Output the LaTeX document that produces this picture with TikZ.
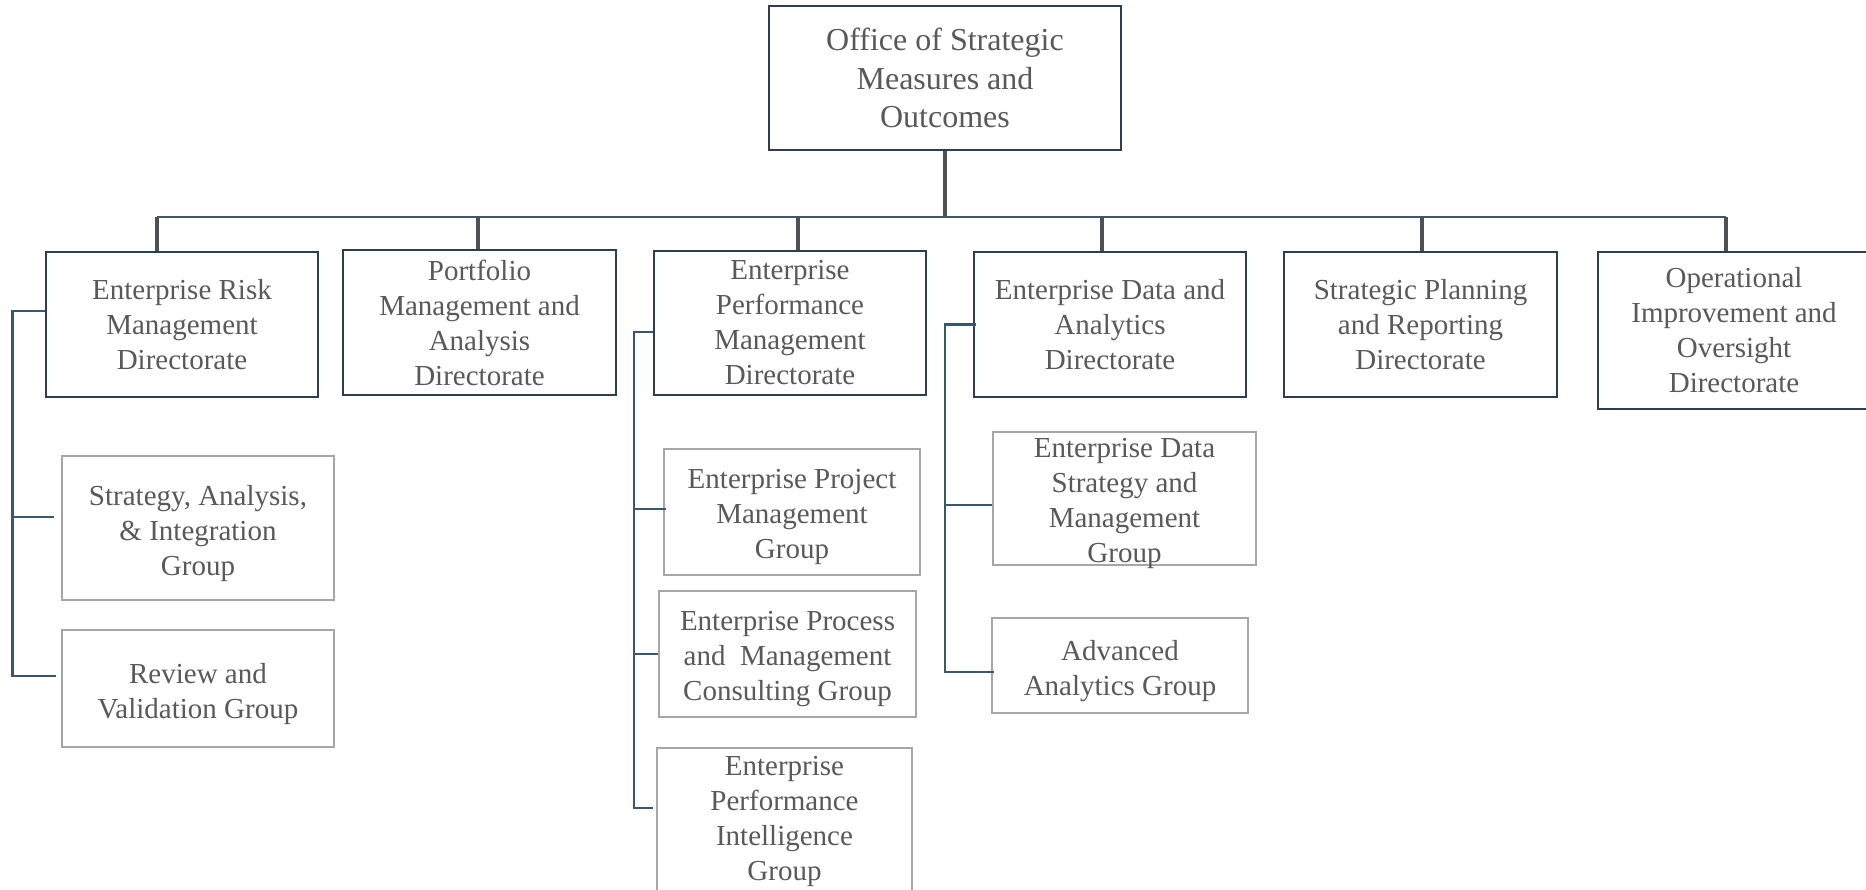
\documentclass[tikz,border=0pt]{standalone}
\usepackage{fontspec}
\setmainfont{Liberation Serif}
\definecolor{navy}{HTML}{2D3E50}
\definecolor{txt}{HTML}{595959}
\definecolor{gbord}{HTML}{A6A6A6}
\definecolor{busc}{HTML}{44546A}
\definecolor{dropc}{HTML}{4D5055}
\definecolor{connc}{HTML}{3B566E}
\begin{document}
\begin{tikzpicture}[x=0.5pt,y=-0.5pt,
  dirbox/.style={draw=navy,line width=1pt,fill=white,align=center,text=txt,inner sep=0pt,
    font=\fontsize{14.5}{17.5}\selectfont},
  topbox/.style={dirbox,font=\fontsize{16}{19.4}\selectfont},
  grpbox/.style={draw=gbord,line width=1pt,fill=white,inner sep=0pt},
  grptxt/.style={align=center,text=txt,inner sep=0pt,font=\fontsize{14.5}{17.5}\selectfont},
  busline/.style={draw=busc,line width=1.2pt},
  dropline/.style={draw=dropc,line width=1.7pt},
  connline/.style={draw=connc,line width=1.4pt}]
\useasboundingbox (0,0) rectangle (1866,889);
\clip (0,0) rectangle (1866,889);
\fill[white] (0,0) rectangle (1866,889);

% directorate nodes
\node[topbox,minimum width=176pt,minimum height=72pt] (top) at (945,78) {Office of Strategic\\Measures and\\Outcomes};
\node[dirbox,minimum width=136pt,minimum height=72.5pt] (erm) at (182,324.5) {Enterprise Risk\\Management\\Directorate};
\node[dirbox,minimum width=136.5pt,minimum height=72.5pt] (pma) at (479.5,322.5) {Portfolio\\Management and\\Analysis\\Directorate};
\node[dirbox,minimum width=136pt,minimum height=72pt] (epm) at (790,323) {Enterprise\\Performance\\Management\\Directorate};
\node[dirbox,minimum width=136pt,minimum height=72.5pt] (eda) at (1110,324.5) {Enterprise Data and\\Analytics\\Directorate};
\node[dirbox,minimum width=136.5pt,minimum height=72.5pt] (spr) at (1420.5,324.5) {Strategic Planning\\and Reporting\\Directorate};
\node[dirbox,minimum width=136pt,minimum height=78.5pt] (oio) at (1734,330.5) {Operational\\Improvement and\\Oversight\\Directorate};

% group boxes
\node[grpbox,minimum width=136pt,minimum height=72pt] (sai) at (198,528) {};
\node[grpbox,minimum width=136pt,minimum height=58.5pt] (rvg) at (198,688.5) {};
\node[grpbox,minimum width=128pt,minimum height=63pt] (epmg) at (792,512) {};
\node[grpbox,minimum width=128.5pt,minimum height=63pt] (epc) at (787.5,654) {};
\node[grpbox,minimum width=127.5pt,minimum height=72pt] (epi) at (784.5,820) {};
\node[grpbox,minimum width=131.5pt,minimum height=66.5pt] (edsm) at (1124.5,498.5) {};
\node[grpbox,minimum width=128pt,minimum height=47.5pt] (aag) at (1120,665.5) {};

% group texts
\node[grptxt] (saiT) at ([yshift=-2.7pt]sai.center) {Strategy, Analysis,\\\& Integration\\Group};
\node[grptxt] (rvgT) at ([yshift=-2.7pt]rvg.center) {Review and\\Validation Group};
\node[grptxt] (epmgT) at ([yshift=-2.7pt]epmg.center) {Enterprise Project\\Management\\Group};
\node[grptxt] (epcT) at ([yshift=-2.7pt]epc.center) {Enterprise Process\\and~~Management\\Consulting Group};
\node[grptxt] (epiT) at ([yshift=-0.6pt]epi.center) {Enterprise\\Performance\\Intelligence\\Group};
\node[grptxt] (edsmT) at ([yshift=-2.7pt]edsm.center) {Enterprise Data\\Strategy and\\Management\\Group};
\node[grptxt] (aagT) at ([yshift=-2.7pt]aag.center) {Advanced\\Analytics Group};

% bus
\coordinate (busy) at (0,217);
\coordinate (dA) at ([xshift=-12.5pt]erm.north);
\coordinate (dB) at ([xshift=-0.75pt]pma.north);
\coordinate (dC) at ([xshift=4pt]epm.north);
\coordinate (dD) at ([xshift=-4pt]eda.north);
\coordinate (dE) at ([xshift=0.75pt]spr.north);
\coordinate (dF) at ([xshift=-4pt]oio.north);
\draw[dropline] (top.south) -- (top.south |- busy);
\draw[busline] (dA |- busy) -- (dF |- busy);
\foreach \d in {dA,dB,dC,dD,dE,dF}{
  \draw[dropline] (\d |- busy) -- (\d);
}

% left connectors: ERM
\coordinate (spA) at (12.5,0);
\coordinate (bA1) at ([xshift=-3.5pt,yshift=5.5pt]sai.west);
\coordinate (bA2) at ([xshift=-2.5pt,yshift=6.25pt]rvg.west);
\draw[connline] ([yshift=6.75pt]erm.west) -| (spA |- bA2) -- (bA2);
\draw[connline] (spA |- bA1) -- (bA1);

% EPM
\coordinate (spB) at (634,0);
\coordinate (bB1) at ([xshift=1.5pt,yshift=1.5pt]epmg.west);
\coordinate (bB2) at (epc.west);
\coordinate (bB3) at ([xshift=-1.5pt,yshift=6pt]epi.west);
\draw[connline] ([yshift=-4.5pt]epm.west) -| (spB |- bB3) -- (bB3);
\draw[connline] (spB |- bB1) -- (bB1);
\draw[connline] (spB |- bB2) -- (bB2);

% EDA
\coordinate (spC) at (945,0);
\coordinate (bC1) at ([yshift=-3.25pt]edsm.west);
\coordinate (bC2) at ([xshift=1.5pt,yshift=-3.25pt]aag.west);
\draw[connline] ([xshift=1.5pt]eda.west) -| (spC |- bC2) -- (bC2);
\draw[connline] (spC |- bC1) -- (bC1);
\end{tikzpicture}
\end{document}
